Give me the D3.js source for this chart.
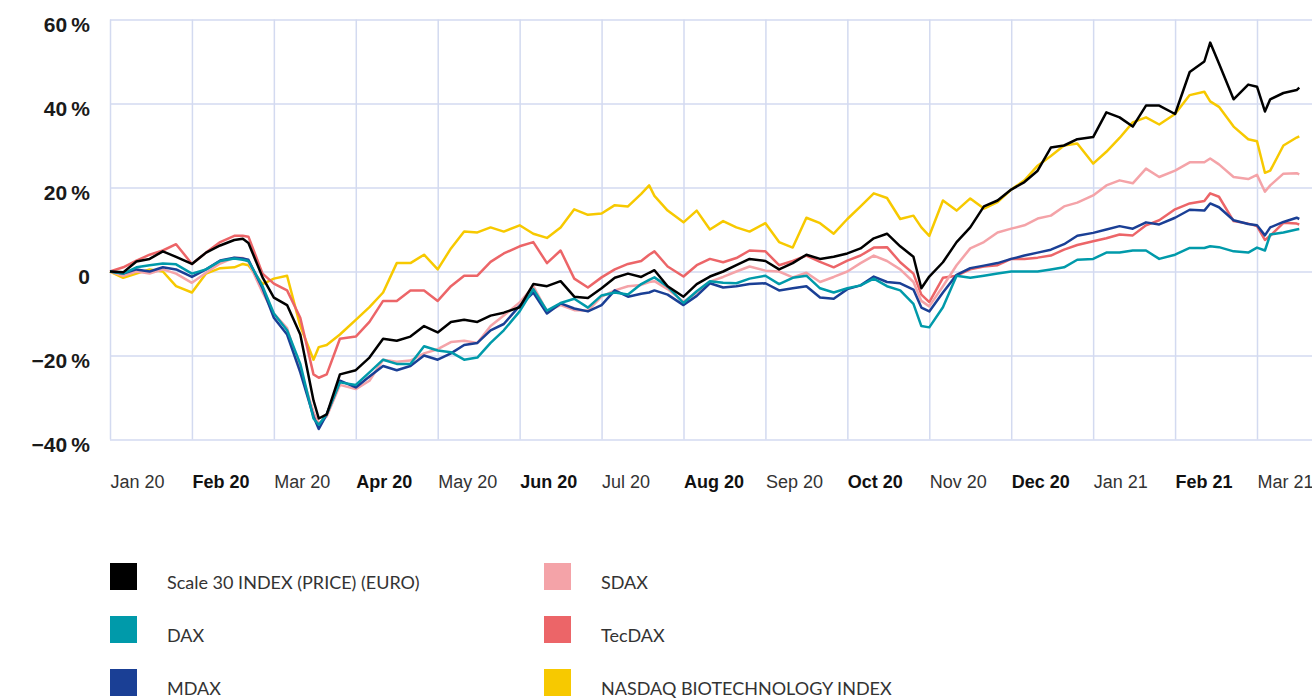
<!DOCTYPE html>
<html>
<head>
<meta charset="utf-8">
<script src="https://cdn.jsdelivr.net/npm/d3@7"></script>
<style>
  body { margin: 0; background: #fff; }
  svg { display: block; font-family: Lato, "Open Sans", sans-serif; }
</style>
</head>
<body>
<svg id="chart" width="1312" height="698"></svg>
<script>
// sample dates (roughly every 5 days, plus a few turning points)
var dates = [
  '2020-01-01','2020-01-06','2020-01-11','2020-01-16','2020-01-21','2020-01-26',
  '2020-02-01','2020-02-06','2020-02-11','2020-02-16','2020-02-19','2020-02-21','2020-02-26',
  '2020-03-01','2020-03-06','2020-03-11','2020-03-16','2020-03-18','2020-03-21','2020-03-26',
  '2020-04-01','2020-04-06','2020-04-11','2020-04-16','2020-04-21','2020-04-26',
  '2020-05-01','2020-05-06','2020-05-11','2020-05-16','2020-05-21','2020-05-26',
  '2020-06-01','2020-06-06','2020-06-11','2020-06-16','2020-06-21','2020-06-26',
  '2020-07-01','2020-07-06','2020-07-11','2020-07-16','2020-07-19','2020-07-21','2020-07-26',
  '2020-08-01','2020-08-06','2020-08-11','2020-08-16','2020-08-21','2020-08-26',
  '2020-09-01','2020-09-06','2020-09-11','2020-09-16','2020-09-21','2020-09-26',
  '2020-10-01','2020-10-06','2020-10-11','2020-10-16','2020-10-21','2020-10-26','2020-10-29',
  '2020-11-01','2020-11-06','2020-11-11','2020-11-16','2020-11-21','2020-11-26',
  '2020-12-01','2020-12-06','2020-12-11','2020-12-16','2020-12-21','2020-12-26',
  '2021-01-01','2021-01-06','2021-01-11','2021-01-16','2021-01-21','2021-01-26',
  '2021-02-01','2021-02-06','2021-02-11','2021-02-13','2021-02-16','2021-02-21','2021-02-26',
  '2021-03-01','2021-03-04','2021-03-06','2021-03-11','2021-03-16','2021-03-17'
];

var scale30 = [
  0, -0.2, 2.4, 3, 4.8, 3.5,
  1.8, 4.5, 6.2, 7.5, 7.8, 6.8, -1.4,
  -6.2, -8, -15, -30.7, -35, -34, -24.5,
  -23.5, -20.5, -16, -16.5, -15.5, -13,
  -14.5, -12, -11.5, -12, -10.5, -9.8,
  -8.5, -3, -3.5, -2.3, -6, -6.3,
  -4, -1.5, -0.5, -1.3, -0.3, 0.3, -3.5,
  -6, -3, -1.2, 0, 1.5, 3,
  2.5, 0.5, 2, 4, 3, 3.5,
  4.3, 5.5, 7.9, 9, 6, 3.5, -4,
  -1.2, 2.2, 7, 10.5, 15.5, 16.9,
  19.5, 21.3, 24, 29.5, 30, 31.5,
  32, 37.9, 36.7, 34.5, 39.5, 39.5,
  37.5, 47.5, 50, 54.5, 49.5, 41, 44.5,
  44, 38.1, 41, 42.5, 43.2, 43.8
];
var dax = [
  0, -0.5, 1, 1.5, 1.9, 1.7,
  -0.5, 0.5, 2.5, 3.1, 2.8, 2.5, -3.5,
  -10, -14, -22, -35, -36.5, -34, -26.4,
  -27, -24, -21, -22, -22, -17.8,
  -18.8, -19.2, -21, -20.5, -17, -14,
  -9.5, -4.2, -9.3, -7.5, -6.5, -8.6,
  -5.7, -5, -5.5, -3, -2, -1.4, -3.6,
  -7.5, -4.7, -2.3, -2.7, -2.8, -1.7,
  -1, -3, -1.5, -1, -4, -5,
  -4, -3.3, -1.7, -3.5, -4.5, -7.7, -13,
  -13.3, -8.5, -1, -1.5, -1, -0.5,
  0, 0, 0, 0.5, 1, 2.8,
  3, 4.5, 4.5, 5, 5, 3,
  4, 5.6, 5.6, 6, 5.8, 4.8, 4.5,
  5.7, 5, 8.8, 9.3, 10, 10.1
];
var mdax = [
  0, -0.5, 0.5, 0, 1, 0.5,
  -1.3, 0.5, 2.6, 3.3, 3.1, 2.8, -4,
  -11, -15, -24, -34.5, -37.5, -34, -26,
  -27.6, -25, -22.5, -23.5, -22.5, -20,
  -21, -19.5, -17.5, -17, -14, -12.5,
  -8.2, -5, -10, -7.6, -8.8, -9.5,
  -8, -4.5, -6, -5.3, -5, -4.5, -5.5,
  -8, -5.8, -2.8, -3.8, -3.5, -3,
  -2.8, -4.5, -4, -3.5, -6.2, -6.5,
  -4.2, -3.3, -1.2, -2.5, -2.8, -4.3, -8.6,
  -9.5, -5, -0.8, 0.8, 1.4, 2,
  3, 3.8, 4.5, 5.2, 6.5, 8.5,
  9.2, 10, 10.8, 10.2, 11.7, 11.2,
  12.8, 14.7, 14.5, 16.2, 15.3, 12.2, 11.3,
  11, 8.6, 10.5, 11.8, 12.8, 12.5
];
var sdax = [
  0, -1, 0, -0.5, 0.5, -0.5,
  -2.7, -0.3, 1.9, 3.3, 3.2, 2.3, -5,
  -10, -13.5, -23.5, -33.5, -36.2, -34.5, -27,
  -28, -26, -21, -21.5, -21.2, -19.5,
  -18.5, -16.8, -16.5, -17, -13, -10.5,
  -7.4, -3.5, -9.5, -8, -9.2, -9.3,
  -6, -4.5, -3.5, -3.2, -2.5, -2.3, -4.2,
  -7.2, -5, -2.4, -1.3, 0, 1.2,
  0.2, 0, -1.4, -0.3, -2.5, -1.3,
  0, 2, 3.8, 2.5, 0.5, -2.5, -7,
  -8.3, -3.5, 1.5, 5.5, 7, 9.3,
  10.2, 11, 12.6, 13.3, 15.5, 16.4,
  18.1, 20.5, 21.7, 21, 24.5, 22.5,
  24, 26, 26, 26.9, 25.5, 22.5, 22,
  23, 19, 20.5, 23.3, 23.4, 23.1
];
var tecdax = [
  0, 1, 2.6, 4, 5, 6.5,
  1.8, 4.5, 7, 8.5, 8.5, 8.3, -0.5,
  -2.9, -4.5, -11, -24.5, -25.3, -24.5, -16,
  -15.5, -12, -7, -7, -4.5, -4.5,
  -7, -3.5, -1, -1, 2.3, 4.3,
  6, 7, 2, 5, -1.7, -3.8,
  -1.4, 0.5, 1.8, 2.5, 4, 4.8, 1.2,
  -1.2, 1.5, 3, 2.2, 3.2, 5,
  4.8, 1.5, 2.5, 3.8, 2.3, 1,
  2.6, 3.8, 5.7, 5.8, 2.2, -0.5, -5.5,
  -7.3, -1.5, -1, 0.5, 1.2, 1.5,
  3, 3, 3.3, 3.8, 5.2, 6.3,
  7.2, 7.9, 8.8, 8.6, 11, 12.2,
  14.8, 16.2, 16.8, 18.6, 17.8, 12, 11.4,
  10.8, 7.5, 8.5, 11.6, 11.4, 11.2
];
var nasdaqBio = [
  0, -1.5, -0.5, 0.5, 0, -3.5,
  -5, -0.5, 0.8, 1, 1.8, 1.5, -3,
  -1.7, -1, -13, -21, -18, -17.5, -15,
  -11.5, -8.5, -5, 2, 2, 4,
  0.5, 5.5, 9.5, 9.3, 10.5, 9.5,
  11, 9, 8, 10.5, 14.8, 13.5,
  13.8, 15.8, 15.5, 18.5, 20.5, 18, 14.5,
  11.7, 14.5, 10, 12, 10.5, 9.5,
  11.5, 7, 5.7, 12.8, 11.5, 9,
  12.5, 15.5, 18.6, 17.5, 12.5, 13.3, 10.5,
  8.5, 16.9, 14.5, 17.4, 15, 16.5,
  19.5, 21.7, 25.2, 27.5, 30, 30.5,
  25.7, 28.5, 31.8, 35.5, 36.7, 35,
  37.5, 42, 42.8, 40.5, 39.2, 34.5, 31.5,
  31, 23.5, 24, 30, 31.9, 32.2
];

var seriesNames = ['Scale 30 INDEX (PRICE) (EURO)', 'DAX', 'MDAX', 'SDAX', 'TecDAX', 'NASDAQ BIOTECHNOLOGY INDEX'];
var seriesValues = [scale30, dax, mdax, sdax, tecdax, nasdaqBio];
var seriesColors = ['#000000', '#009aaa', '#1a3f95', '#f4a3a8', '#ec6568', '#f7c900'];

var monthLabels = ['Jan 20', 'Feb 20', 'Mar 20', 'Apr 20', 'May 20', 'Jun 20', 'Jul 20', 'Aug 20',
  'Sep 20', 'Oct 20', 'Nov 20', 'Dec 20', 'Jan 21', 'Feb 21', 'Mar 21'];
var yTicks = [-40, -20, 0, 20, 40, 60];

var svg = d3.select('#chart');
var parse = d3.timeParse('%Y-%m-%d');

// every month gets the same width on the axis
var monthPos = function (d) {
  var m = (d.getFullYear() - 2020) * 12 + d.getMonth();
  var dim = new Date(d.getFullYear(), d.getMonth() + 1, 0).getDate();
  return m + (d.getDate() - 1) / dim;
};

var plotLeft = 110, plotRight = 1312, plotTop = 19.5, plotBottom = 439.5;
var x = d3.scaleLinear().domain([0, 14]).range([plotLeft, 1257]);
var y = d3.scaleLinear().domain([-40, 60]).range([plotBottom, plotTop]);

var gridColor = '#d3daf0';

// vertical grid + month labels
var xAxis = svg.append('g')
    .attr('transform', 'translate(0,' + plotBottom + ')')
    .call(d3.axisBottom(x)
      .tickValues(d3.range(monthLabels.length))
      .tickSize(-(plotBottom - plotTop))
      .tickFormat(function (i) { return monthLabels[i]; }));
xAxis.select('.domain').remove();
xAxis.selectAll('line').attr('stroke', gridColor).attr('stroke-width', 1.5);
xAxis.selectAll('text')
    .attr('y', 48)
    .attr('x', 0)
    .attr('dy', 0)
    .attr('text-anchor', 'start')
    .style('font-size', '18px')
    .style('font-weight', function (i) { return i % 2 === 1 ? 700 : 400; })
    .attr('fill', function (i) { return i % 2 === 1 ? '#111' : '#333'; });

// horizontal grid + percent labels
var yAxis = svg.append('g')
    .attr('transform', 'translate(' + plotLeft + ',0)')
    .call(d3.axisLeft(y)
      .tickValues(yTicks)
      .tickSize(-(plotRight - plotLeft))
      .tickFormat(function (v) {
        if (v === 0) return '0';
        return (v < 0 ? '\u2212' : '') + Math.abs(v) + '\u2009%';
      }));
yAxis.select('.domain').remove();
yAxis.selectAll('line').attr('stroke', gridColor).attr('stroke-width', 1.5);
yAxis.selectAll('text')
    .attr('x', -20)
    .attr('y', 12)
    .attr('dy', 0)
    .style('font-size', '21px')
    .style('font-weight', 700)
    .attr('fill', '#1a1a1a');

// lines, first legend entry on top
var pts = dates.map(parse).map(monthPos);
var line = d3.line()
    .x(function (d, i) { return x(pts[i]); })
    .y(function (d) { return y(d); });

svg.append('g')
  .selectAll('path')
  .data(d3.range(seriesValues.length).reverse())
  .join('path')
    .attr('d', function (k) { return line(seriesValues[k]); })
    .attr('fill', 'none')
    .attr('stroke', function (k) { return seriesColors[k]; })
    .attr('stroke-width', 2.5)
    .attr('stroke-linejoin', 'round');

// legend, two columns of three
var legend = svg.append('g')
  .selectAll('g')
  .data(seriesNames)
  .join('g')
    .attr('transform', function (d, i) {
      return 'translate(' + (i < 3 ? 110 : 544) + ',' + (563 + (i % 3) * 53) + ')';
    });
legend.append('rect')
    .attr('width', 27)
    .attr('height', 27)
    .attr('fill', function (d, i) { return seriesColors[i]; });
legend.append('text')
    .attr('x', 57)
    .attr('y', 26)
    .style('font-size', '18px')
    .attr('fill', '#333')
    .text(function (d) { return d; });
</script>
</body>
</html>
